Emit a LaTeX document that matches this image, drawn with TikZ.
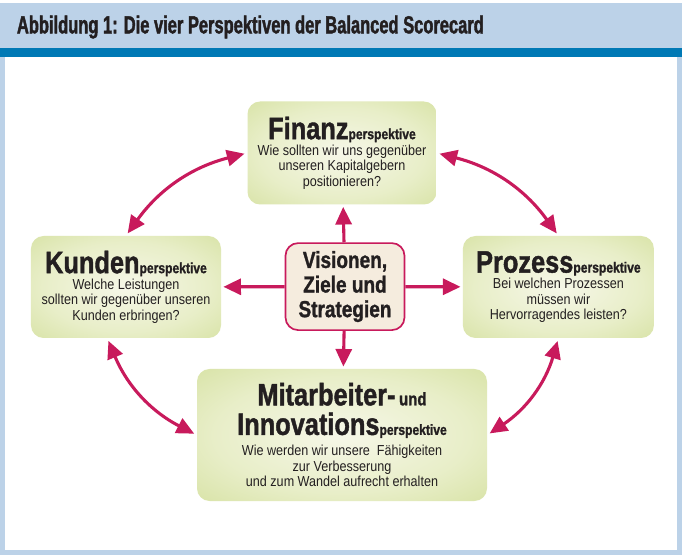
\documentclass[tikz,border=0pt]{standalone}
\usepackage{fontspec}
\setmainfont[FakeStretch=0.87]{Liberation Sans}
\newfontfamily\headfont[FakeStretch=0.67, FakeBold=1.6]{Liberation Sans Bold}
\newfontfamily\heavyfont[FakeStretch=0.82, FakeBold=1.3]{Liberation Sans Bold}
\usepackage{tikz}
\usetikzlibrary{arrows.meta, positioning, shadings}
\definecolor{headblue}{RGB}{188,210,232}
\definecolor{stripeblue}{RGB}{0,121,181}
\definecolor{arrowred}{RGB}{200,26,92}
\definecolor{perslight}{RGB}{246,247,232}
\definecolor{persmid}{RGB}{232,238,200}
\definecolor{persgreen}{RGB}{212,224,158}
\definecolor{visfill}{RGB}{245,236,222}
\definecolor{textdark}{RGB}{35,31,32}
\pgfdeclareradialshading{persshade}{\pgfpoint{0bp}{0bp}}{color(0bp)=(perslight); color(22bp)=(persmid); color(40bp)=(persgreen); color(50bp)=(persgreen)}
\newcommand{\ptitle}[1]{{\fontsize{22}{22}\heavyfont #1}}
\newcommand{\psmall}[1]{{\fontsize{10.5}{10.5}\heavyfont #1}}
\newcommand{\tightlines}{\setlength{\lineskiplimit}{-50pt}}

\begin{document}
\begin{tikzpicture}[
    persp/.style={rounded corners=9pt, shading=persshade, text=textdark, font=\fontsize{10.3}{11}\selectfont\tightlines, align=center, inner sep=2pt},
    vision/.style={draw=arrowred, line width=1.2pt, fill=visfill, rounded corners=9pt, text=textdark, font=\fontsize{16.5}{17.5}\heavyfont\tightlines, align=center, minimum width=2.975cm, minimum height=2.175cm},
    arrow/.style={-{Triangle[length=4.4mm, width=4mm]}, line width=2.2pt, draw=arrowred, shorten >=1.5pt},
    biarrow/.style={{Triangle[length=4.4mm, width=4mm]}-{Triangle[length=4.4mm, width=4mm]}, line width=2.2pt, draw=arrowred, shorten >=2pt, shorten <=2pt}
]
    \useasboundingbox (0,0) rectangle (17.05,13.875);

    % Frame and header
    \fill[headblue] (0,0) rectangle (17.05,13.8);
    \fill[white] (0.125,0.125) rectangle (16.925,12.45);
    \fill[stripeblue] (0,12.45) rectangle (17.05,12.675);
    \node[anchor=west, text=textdark, font=\fontsize{17.5}{18}\headfont] (head) at (0.3,13.2) {Abbildung 1: Die vier Perspektiven der Balanced Scorecard};

    % Perspectives
    \node[persp, minimum width=4.725cm, minimum height=2.575cm] (fin) at (8.55,10.05) {\ptitle{Finanz}\psmall{perspektive}\\[0.5pt] Wie sollten wir uns gegenüber\\ unseren Kapitalgebern\\ positionieren?};
    \node[persp, minimum width=4.75cm, minimum height=2.55cm] (kun) at (3.15,6.7) {\ptitle{Kunden}\psmall{perspektive}\\[0.5pt] Welche Leistungen\\ sollten wir gegenüber unseren\\ Kunden erbringen?};
    \node[persp, minimum width=4.775cm, minimum height=2.55cm] (pro) at (13.96,6.7) {\ptitle{Prozess}\psmall{perspektive}\\[0.5pt] Bei welchen Prozessen\\ müssen wir\\ Hervorragendes leisten?};
    \node[persp, minimum width=7.25cm, minimum height=3.3cm] (mit) at (8.55,3.0) {\ptitle{Mitarbeiter-} {\fontsize{13}{13}\heavyfont und}\\[10pt] \ptitle{Innovations}\psmall{perspektive}\\[4pt] Wie werden wir unsere~ Fähigkeiten\\ zur Verbesserung\\ und zum Wandel aufrecht erhalten};

    % Center
    \node[vision] (vis) at (8.625,6.71) {Visionen,\\ Ziele und\\ Strategien};

    % Connections
    \draw[arrow] (vis) -- (fin);
    \draw[arrow] (vis) -- (kun);
    \draw[arrow] (vis) -- (pro);
    \draw[arrow] (vis) -- (mit);
    \draw[biarrow] (kun.north) to[bend left=20] (fin.west);
    \draw[biarrow] (fin.east) to[bend left=20] (pro.north);
    \draw[biarrow] (kun.250) to[bend right=20] (mit.west);
    \draw[biarrow] (pro.south) to[bend left=20] (mit.east);
\end{tikzpicture}
\end{document}
